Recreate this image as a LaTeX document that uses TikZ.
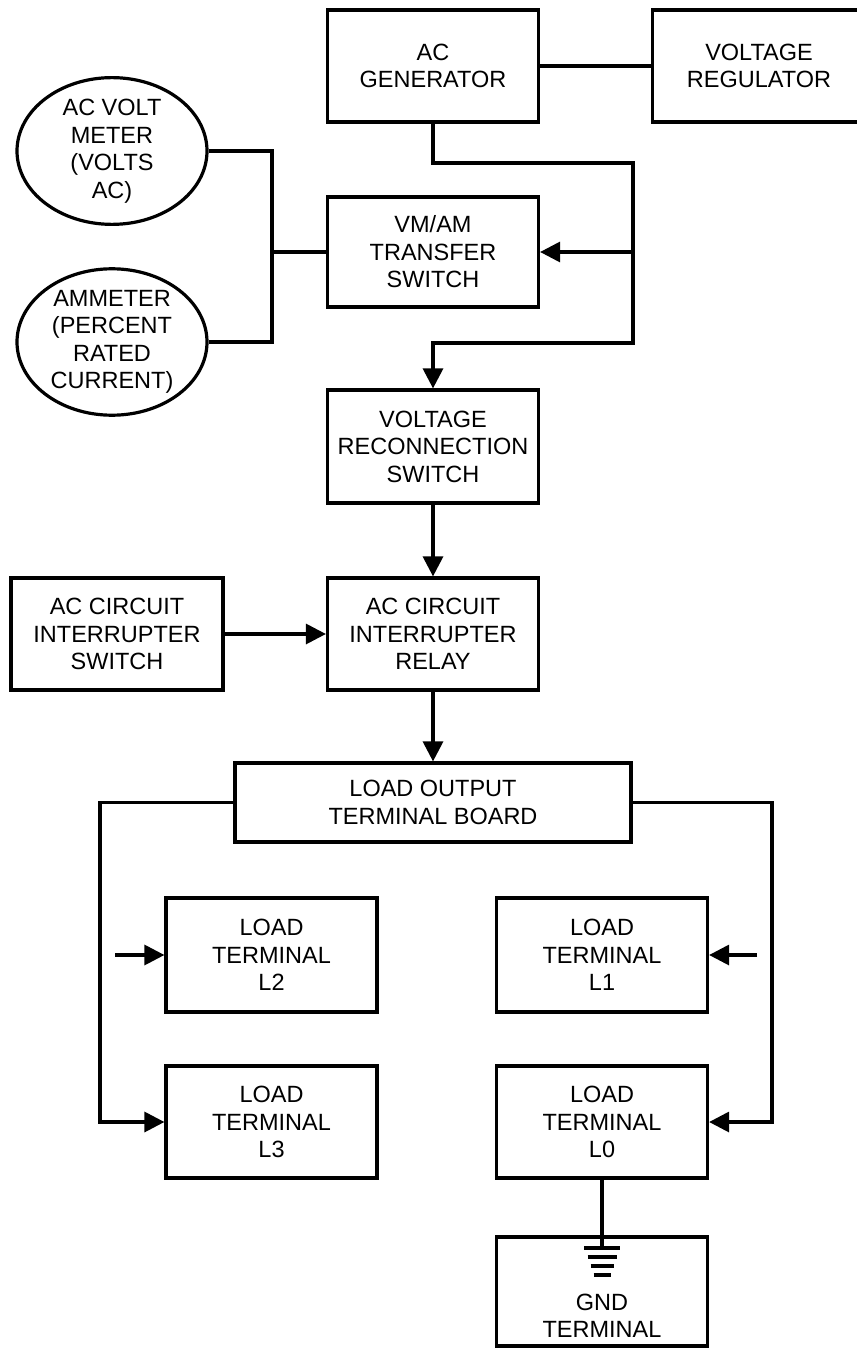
\documentclass[tikz,border=0pt]{standalone}
\usepackage{fontspec}
\setmainfont{Liberation Sans}
\usetikzlibrary{arrows.meta,shapes.geometric}
\begin{document}
\begin{tikzpicture}[x=1pt,y=-1pt,
  line width=3.2pt,
  every node/.style={font=\fontsize{23.5}{27.5}\selectfont, align=center, inner sep=0pt},
  box/.style={draw, rectangle, minimum width=211pt, minimum height=112pt},
  oval/.style={draw, ellipse, minimum width=190pt, minimum height=146pt},
  arr/.style={-{Triangle[length=20pt,width=20pt]}}
]
\useasboundingbox (0,0) rectangle (856,1348);

% nodes
\node[box] (gen) at (433,66) {AC\\GENERATOR};
\node[box, minimum width=213pt] (vreg) at (759,66) {VOLTAGE\\REGULATOR};
\node[oval] (vm) at (112,151) {AC VOLT\\METER\\(VOLTS\\AC)};
\node[oval] (am) at (112,342) {AMMETER\\(PERCENT\\RATED\\CURRENT)};
\node[box, minimum height=110pt] (xfer) at (433,252) {VM/AM\\TRANSFER\\SWITCH};
\node[box, minimum height=113pt] (vrs) at (433,446.5) {VOLTAGE\\RECONNECTION\\SWITCH};
\node[box] (relay) at (433,634) {AC CIRCUIT\\INTERRUPTER\\RELAY};
\node[box, minimum width=212pt] (cis) at (117,634) {AC CIRCUIT\\INTERRUPTER\\SWITCH};
\node[box, minimum width=396pt, minimum height=79pt] (board) at (433,802.5) {LOAD OUTPUT\\TERMINAL BOARD};
\node[box, minimum height=114pt] (ltwo) at (271.5,955) {LOAD\\TERMINAL\\L2};
\node[box, minimum height=114pt] (lone) at (602,955) {LOAD\\TERMINAL\\L1};
\node[box] (lthree) at (271.5,1122) {LOAD\\TERMINAL\\L3};
\node[box] (lzero) at (602,1122) {LOAD\\TERMINAL\\L0};
\node[box, minimum height=109pt] (gnd) at (602,1291.5) {};
\node (gndtxt) at (602,1316) {GND\\TERMINAL};

% helper coordinates
\coordinate (c1) at (633,163);
\coordinate (c2) at (633,343);
\coordinate (tap) at (633,252);
\coordinate (bus1) at (272,151);
\coordinate (bus2) at (272,342);
\coordinate (jn) at (272,252);
\coordinate (lt) at (100,802.5);
\coordinate (rt) at (772,802.5);
\coordinate (s2) at (115,955);
\coordinate (s1) at (757,955);
\coordinate (g0) at (602,1248);

% connectors
\draw (gen.east) -- (vreg.west);
\draw[arr] (gen.south) |- (c1) -- (c2) -| (vrs.north);
\draw[arr] (tap) -- (xfer.east);
\draw (vm.east) -- (bus1) -- (bus2) -- (am.east);
\draw (jn) -- (xfer.west);
\draw[arr] (vrs.south) -- (relay.north);
\draw[arr] (cis.east) -- (relay.west);
\draw[arr] (relay.south) -- (board.north);
\draw[arr] (board.west) -- (lt) |- (lthree.west);
\draw[arr] (board.east) -- (rt) |- (lzero.east);
\draw[arr] (s2) -- (ltwo.west);
\draw[arr] (s1) -- (lone.east);
\draw (lzero.south) -- (g0);

% ground symbol
\draw (584,1248) -- (620,1248);
\draw (587.5,1257) -- (616.5,1257);
\draw (590.5,1266) -- (613.5,1266);
\draw (593.5,1275) -- (610.5,1275);
\end{tikzpicture}
\end{document}
